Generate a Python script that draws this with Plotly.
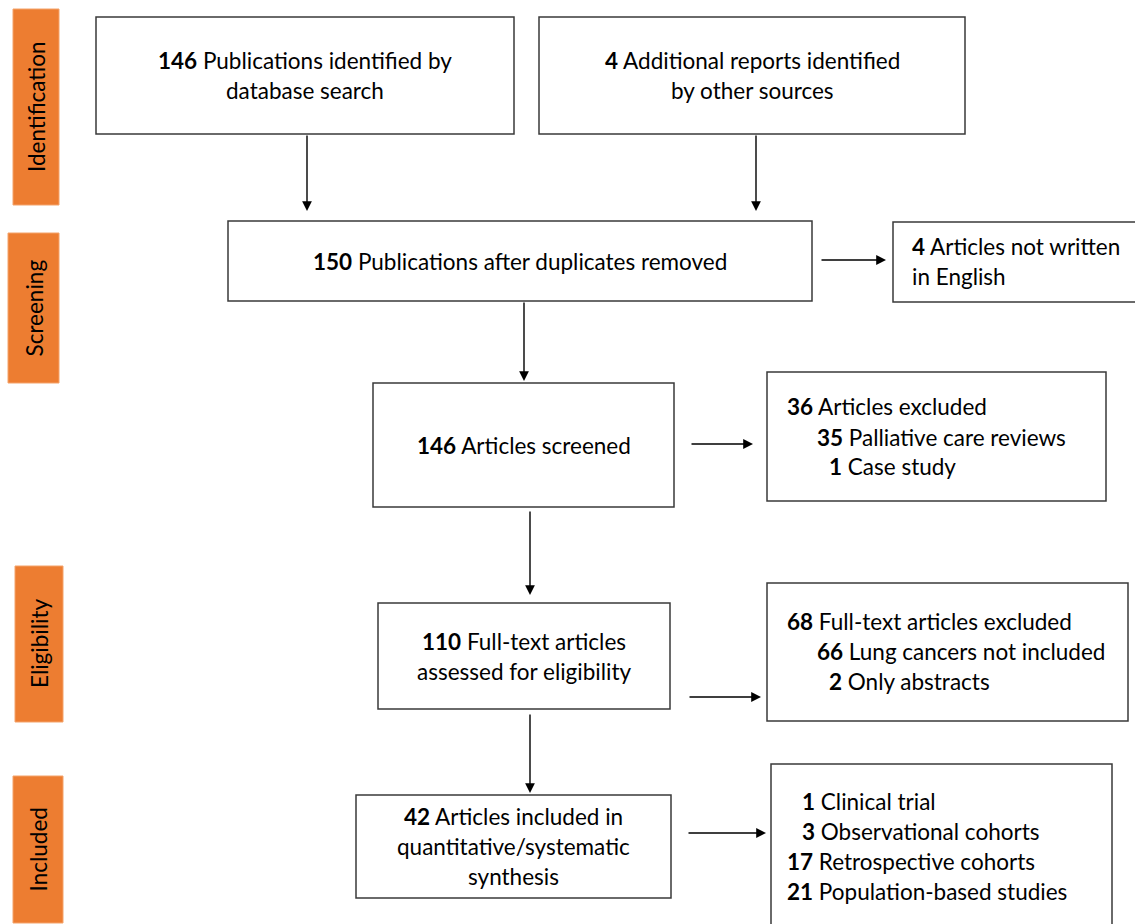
import plotly.graph_objects as go

# ---- content ----
stage_labels = ["Identification", "Screening", "Eligibility", "Included"]
stage_boxes = [(13, 9, 59, 205), (8, 233, 59, 383), (15, 566, 63, 722), (13, 776, 63, 923)]

# centred boxes: (x0, y0, x1, y1), lines
center_boxes = [
    ((96, 17, 514, 134), ["<b>146</b> Publications identified by", "database search"]),
    ((539, 17, 965, 134), ["<b>4</b> Additional reports identified", "by other sources"]),
    ((228, 221, 812, 301), ["<b>150</b> Publications after duplicates removed"]),
    ((373, 383, 674, 507), ["<b>146</b> Articles screened"]),
    ((378, 603, 670, 709), ["<b>110</b> Full-text articles", "assessed for eligibility"]),
    ((356, 795, 671, 898), ["<b>42</b> Articles included in", "quantitative/systematic", "synthesis"]),
]

# left-aligned boxes: box, list of (x, y, text)
side_boxes = [
    ((893, 222, 1140, 302), [(910, 246, "<b>4</b> Articles not written"), (910, 276, "in English")]),
    ((767, 372, 1106, 501), [(785, 406, "<b>36</b> Articles excluded"),
                             (815, 437, "<b>35</b> Palliative care reviews"),
                             (827, 466, "<b>1</b> Case study")]),
    ((767, 583, 1128, 721), [(785, 621, "<b>68</b> Full-text articles excluded"),
                             (815, 651, "<b>66</b> Lung cancers not included"),
                             (827, 681, "<b>2</b> Only abstracts")]),
    ((771, 764, 1112, 930), [(800, 801, "<b>1</b> Clinical trial"),
                             (800, 831, "<b>3</b> Observational cohorts"),
                             (785, 861, "<b>17</b> Retrospective cohorts"),
                             (785, 891, "<b>21</b> Population-based studies")]),
]

# arrows: (tail_x, tail_y, head_x, head_y)
arrows = [
    (307, 134, 307, 211), (756, 134, 756, 211),
    (820, 260, 886, 260), (524, 301, 524, 381),
    (690, 444, 753, 444), (530, 510, 530, 595),
    (688, 697, 761, 697), (530, 713, 530, 793),
    (687, 833, 766, 833),
]

FONT = "Lato"
FS = 22.5
ORANGE = "#ED7D31"
EDGE = "#3a3a3a"

fig = go.Figure()
shapes = []
annotations = []

for (x0, y0, x1, y1), lab in zip(stage_boxes, stage_labels):
    shapes.append(dict(type="rect", x0=x0, y0=y0, x1=x1, y1=y1, xref="x", yref="y",
                       fillcolor=ORANGE, line=dict(color="#F4A36A", width=1)))
    annotations.append(dict(x=(x0 + x1) / 2, y=(y0 + y1) / 2, xref="x", yref="y", text=lab,
                            showarrow=False, textangle=-90,
                            font=dict(family=FONT, size=FS, color="black")))

LH = 30
for (x0, y0, x1, y1), lines in center_boxes:
    shapes.append(dict(type="rect", x0=x0, y0=y0, x1=x1, y1=y1, xref="x", yref="y",
                       fillcolor="white", line=dict(color=EDGE, width=1.5)))
    cy = (y0 + y1) / 2
    n = len(lines)
    for i, t in enumerate(lines):
        yy = cy + (i - (n - 1) / 2) * LH
        if n == 2 and y1 - y0 > 110:
            yy = y0 + 43 + i * LH
        annotations.append(dict(x=(x0 + x1) / 2, y=yy, xref="x", yref="y", text=t,
                                showarrow=False, xanchor="center", yanchor="middle",
                                font=dict(family=FONT, size=FS, color="black")))

for (x0, y0, x1, y1), lines in side_boxes:
    shapes.append(dict(type="rect", x0=x0, y0=y0, x1=x1, y1=y1, xref="x", yref="y",
                       fillcolor="white", line=dict(color=EDGE, width=1.5)))
    for (tx, ty, t) in lines:
        annotations.append(dict(x=tx, y=ty, xref="x", yref="y", text=t,
                                showarrow=False, xanchor="left", yanchor="middle",
                                font=dict(family=FONT, size=FS, color="black")))

for (tx, ty, hx, hy) in arrows:
    annotations.append(dict(x=hx, y=hy, ax=tx, ay=ty, xref="x", yref="y", axref="x", ayref="y",
                            text="", showarrow=True, arrowhead=2, arrowsize=1.4,
                            arrowwidth=1.4, arrowcolor="black"))

fig.update_layout(
    width=1135, height=924,
    margin=dict(l=0, r=0, t=0, b=0),
    paper_bgcolor="white", plot_bgcolor="white",
    xaxis=dict(range=[0, 1135], visible=False, fixedrange=True),
    yaxis=dict(range=[924, 0], visible=False, fixedrange=True),
    shapes=shapes, annotations=annotations, showlegend=False,
)

fig.write_html("out.html", config={"displayModeBar": False},
               post_script="document.body.style.margin='0';")
